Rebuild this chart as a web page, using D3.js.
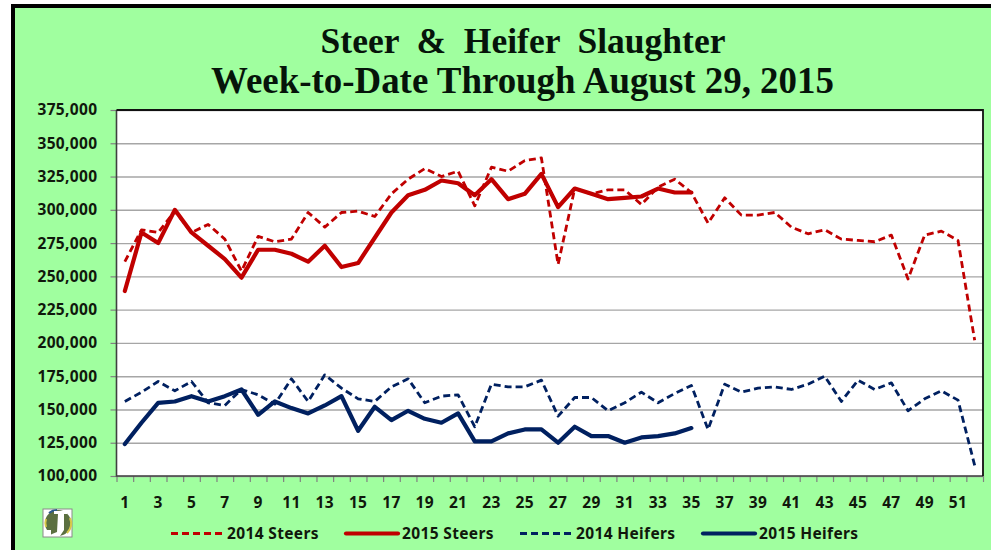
<!DOCTYPE html>
<html>
<head>
<meta charset="utf-8">
<script src="https://cdn.jsdelivr.net/npm/d3@7"></script>
<style>
html, body { margin: 0; background: #fff; }
svg { display: block; }
.tick-label text, .legend text { font-family: "Noto Sans", sans-serif; font-weight: 700; font-size: 15.5px; letter-spacing: 0.35px; fill: #10180c; }
.title { font-family: "Liberation Serif", serif; font-weight: 700; fill: #06140a; }
</style>
</head>
<body>
<script>
var w = 991;
var h = 550;

var weeks = d3.range(1, 53);
var yTicks = [100000, 125000, 150000, 175000, 200000, 225000, 250000, 275000, 300000, 325000, 350000, 375000];

var steers2014 = [261, 285, 283, 299, 283, 289, 278, 254, 280, 276, 278, 298, 287, 298, 299, 295, 312, 323, 331, 325, 329, 303, 332, 329, 337, 339, 259, 316, 312, 315, 315, 304, 317, 323, 313, 290, 309, 296, 296, 298, 287, 282, 285, 278, 277, 276, 281, 248, 281, 284, 277, 202];
var steers2015 = [239, 283, 275, 300, 283, 273, 263, 249, 270, 270, 267, 261, 273, 257, 260, 279, 298, 311, 315, 322, 320, 311, 323, 308, 312, 327, 302, 316, 312, 308, 309, 310, 316, 313, 313];
var heifers2014 = [156, 163, 171, 164, 171, 155, 153, 165, 161, 154, 173, 156, 176, 166, 158, 156, 167, 173, 155, 160, 161, 137, 169, 167, 167, 172, 145, 159, 159, 149, 155, 163, 155, 162, 168, 135, 169, 163, 166, 167, 165, 169, 175, 156, 172, 165, 170, 149, 158, 164, 157, 108];
var heifers2015 = [124, 140, 155, 156, 160, 156, 160, 165, 146, 156, 151, 147, 153, 160, 134, 152, 142, 149, 143, 140, 147, 126, 126, 132, 135, 135, 125, 137, 130, 130, 125, 129, 130, 132, 136];

var red = "#c00000";
var navy = "#002060";

var series = [
  { name: "2014 Steers", values: steers2014, color: red, width: 2.8, dash: "7,4", legendX: 171 },
  { name: "2015 Steers", values: steers2015, color: red, width: 4.2, dash: null, legendX: 346 },
  { name: "2014 Heifers", values: heifers2014, color: navy, width: 2.8, dash: "7,4", legendX: 520 },
  { name: "2015 Heifers", values: heifers2015, color: navy, width: 4.2, dash: null, legendX: 703 }
];

var plotL = 116.5, plotR = 983, plotT = 110, plotB = 476;

var svg = d3.select("body").append("svg")
    .attr("width", w)
    .attr("height", h);

// green panel with the heavy black frame on top and left only
svg.append("rect").attr("x", 11).attr("y", 4).attr("width", w - 11).attr("height", h - 4).attr("fill", "#000");
svg.append("rect").attr("x", 15).attr("y", 8).attr("width", w - 15).attr("height", h - 8).attr("fill", "#a0ff9f");

svg.append("text").attr("class", "title").attr("x", 523).attr("y", 53)
  .attr("font-size", 35.5).attr("text-anchor", "middle").attr("xml:space", "preserve").text("Steer  &  Heifer  Slaughter");
svg.append("text").attr("class", "title").attr("x", 522.5).attr("y", 93)
  .attr("font-size", 36.9).attr("text-anchor", "middle").text("Week-to-Date Through August 29, 2015");

svg.append("rect").attr("x", plotL).attr("y", plotT)
  .attr("width", plotR - plotL).attr("height", plotB - plotT).attr("fill", "#fff");

var x = d3.scaleBand().domain(weeks).range([plotL, plotR]);
var xEdge = d3.scaleLinear().domain([0, 52]).range([plotL, plotR]);
var y = d3.scaleLinear().domain([100000, 375000]).range([plotB, plotT]);

// gridlines
svg.append("g")
  .attr("transform", "translate(" + plotL + ",0)")
  .call(d3.axisLeft(y).tickValues(yTicks).tickSize(-(plotR - plotL)).tickFormat(""))
  .call(function (g) {
    g.select(".domain").remove();
    g.selectAll("line").attr("stroke", "#a6a6a6").attr("stroke-width", 1.4);
  });

// y axis labels and little outer ticks
svg.append("g")
  .attr("class", "tick-label")
  .attr("transform", "translate(" + plotL + ",0)")
  .call(d3.axisLeft(y).tickValues(yTicks).tickSize(6).tickPadding(13).tickFormat(d3.format(",")))
  .call(function (g) {
    g.select(".domain").remove();
    g.selectAll("line").attr("stroke", "#808080").attr("stroke-width", 1.2);
  });

// x axis: tick marks sit on the band edges, labels on every other band
svg.append("g")
  .attr("transform", "translate(0," + plotB + ")")
  .call(d3.axisBottom(xEdge).tickValues(d3.range(0, 53)).tickSize(6).tickFormat(""))
  .call(function (g) {
    g.select(".domain").remove();
    g.selectAll("line").attr("stroke", "#808080").attr("stroke-width", 1.2);
  });

svg.append("g")
  .attr("class", "tick-label")
  .attr("transform", "translate(0," + plotB + ")")
  .call(d3.axisBottom(x).tickSize(0).tickPadding(21).tickFormat(function (d) { return d % 2 ? d : ""; }))
  .call(function (g) { g.select(".domain").remove(); });

// plot border
svg.append("path")
  .attr("d", d3.line()([[plotL, plotT], [plotL, plotB], [plotR, plotB]]))
  .attr("fill", "none").attr("stroke", "#404040").attr("stroke-width", 1.6);
svg.append("path")
  .attr("d", d3.line()([[plotL, plotT], [plotR, plotT], [plotR, plotB]]))
  .attr("fill", "none").attr("stroke", "#111").attr("stroke-width", 1.8);

var line = d3.line()
  .x(function (d, i) { return x(weeks[i]) + x.bandwidth() / 2; })
  .y(function (d) { return y(d * 1000); });

series.forEach(function (s) {
  svg.append("path")
    .attr("d", line(s.values))
    .attr("fill", "none")
    .attr("stroke", s.color)
    .attr("stroke-width", s.width)
    .attr("stroke-linejoin", "round")
    .attr("stroke-linecap", s.dash ? "butt" : "round")
    .attr("stroke-dasharray", s.dash);
});

// legend
var legend = svg.append("g").attr("class", "legend");
series.forEach(function (s) {
  legend.append("line")
    .attr("x1", s.legendX).attr("x2", s.legendX + 52)
    .attr("y1", 533.5).attr("y2", 533.5)
    .attr("stroke", s.color)
    .attr("stroke-width", s.width)
    .attr("stroke-linecap", s.dash ? "butt" : "round")
    .attr("stroke-dasharray", s.dash);
  legend.append("text")
    .attr("x", s.legendX + 56).attr("y", 539)
    .text(s.name);
});

// small logo, lower left
var logo = svg.append("g").attr("transform", "translate(43,509)");
logo.append("rect").attr("width", 29).attr("height", 28).attr("fill", "#fff").attr("stroke", "#8a8a8a").attr("stroke-width", 1);
logo.append("circle").attr("cx", 15).attr("cy", 14).attr("r", 13).attr("fill", "#5b7040");
logo.append("path").attr("d", "M6,4 A13,13 0 0 1 14,1").attr("fill", "none").attr("stroke", "#2a5a8a").attr("stroke-width", 2);
logo.append("path").attr("d", "M3,10 A13,13 0 0 0 3,18").attr("fill", "none").attr("stroke", "#d8c84a").attr("stroke-width", 2);
logo.append("path").attr("d", "M27,9 A13,13 0 0 1 24,24").attr("fill", "none").attr("stroke", "#d8c84a").attr("stroke-width", 2);
// white J cut through the disc
logo.append("path").attr("d", "M11,2 H24 V5 H21 V21 L17,27 H9 V25 L14,23 L15,5 H11 Z").attr("fill", "#fff");
logo.append("rect").attr("x", 2).attr("y", 21).attr("width", 6).attr("height", 6).attr("fill", "#fff");
</script>
</body>
</html>
